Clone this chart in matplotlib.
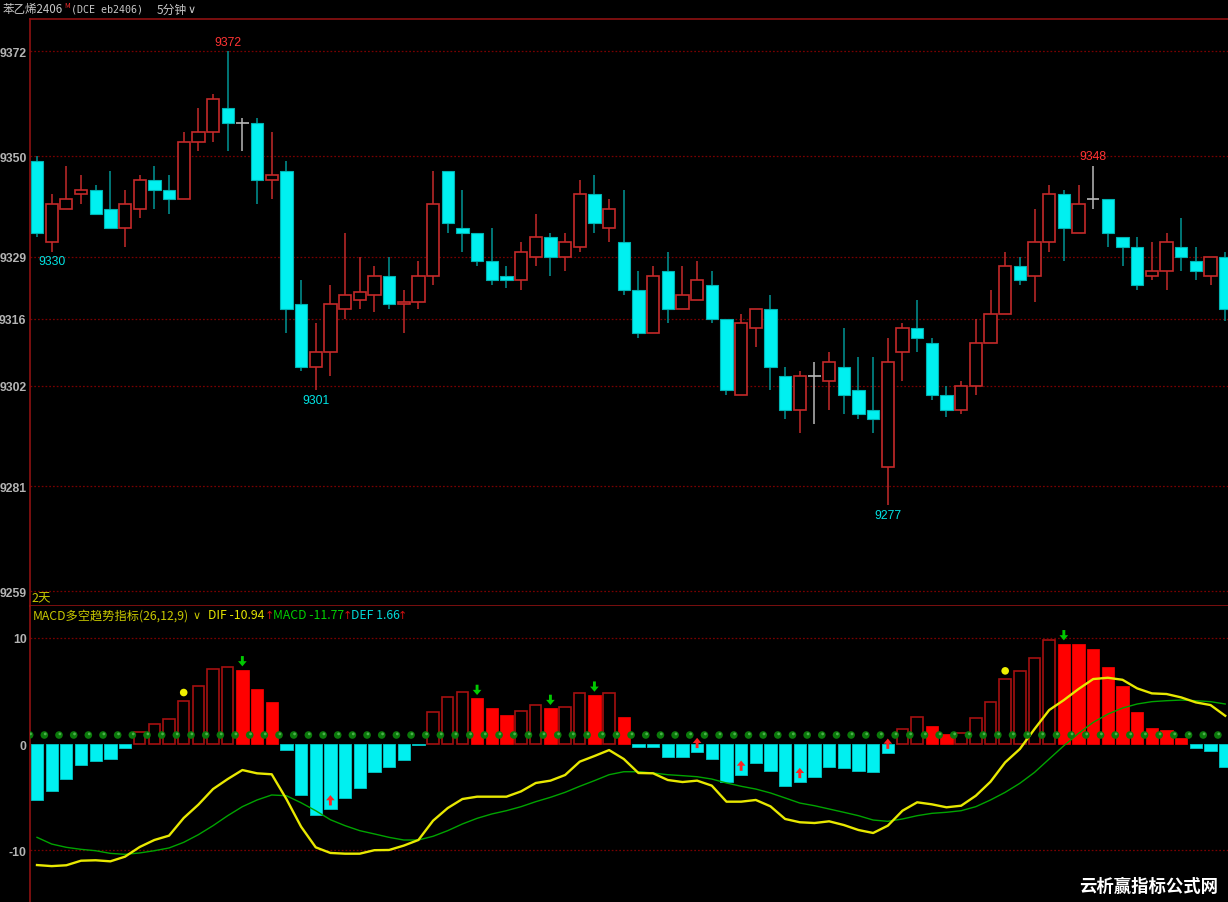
import matplotlib
matplotlib.use('Agg')
import matplotlib.pyplot as plt
import numpy as np
from matplotlib.path import Path

plt.rcParams['font.family'] = ['Noto Sans CJK SC', 'DejaVu Sans']

# ---------------- data ----------------
opens = [9349, 9332, 9339, 9342, 9343, 9339, 9335, 9339, 9345, 9343,
         9341, 9353, 9355, 9360, 9357, 9357, 9345, 9347, 9319, 9306,
         9309, 9318, 9320, 9321, 9325, 9319, 9319.5, 9325, 9347, 9335,
         9334, 9328, 9325, 9324, 9329, 9333, 9329, 9331, 9342, 9335,
         9332, 9322, 9313, 9326, 9318, 9320, 9323, 9316, 9300, 9314,
         9318, 9304, 9297, 9304, 9303, 9306, 9301, 9297, 9285, 9309,
         9314, 9311, 9300, 9297, 9302, 9311, 9317, 9327, 9325, 9332,
         9342, 9334, 9341, 9341, 9333, 9331, 9325, 9326, 9331, 9328,
         9325, 9329]
highs = [9350, 9342, 9348, 9346, 9344, 9347, 9343, 9346, 9348, 9346,
         9355, 9360, 9363, 9372, 9358, 9358, 9355, 9349, 9324, 9315,
         9323, 9334, 9329, 9327, 9329, 9322, 9328, 9347, 9347, 9343,
         9334, 9335, 9327, 9332, 9338, 9334, 9334, 9345, 9346, 9341,
         9343, 9326, 9327, 9330, 9327, 9328, 9326, 9316, 9317, 9318,
         9321, 9306, 9305, 9307, 9309, 9314, 9308, 9308, 9312, 9315,
         9320, 9312, 9302, 9303, 9316, 9322, 9330, 9329, 9339, 9344,
         9343, 9344, 9348, 9341, 9333, 9333, 9332, 9334, 9337, 9331,
         9329, 9330]
lows = [9333, 9330, 9339, 9340, 9338, 9335, 9331, 9337, 9339, 9338,
        9341, 9351, 9353, 9351, 9351, 9340, 9341, 9313, 9305, 9301,
        9304, 9316, 9318, 9317.5, 9318, 9313, 9318, 9323, 9334, 9330,
        9327, 9323, 9322.5, 9322, 9327, 9325, 9326, 9330, 9334, 9332,
        9321, 9312, 9313, 9315, 9318, 9320, 9315, 9300, 9300, 9310,
        9301, 9295, 9292, 9294, 9297, 9296, 9295, 9292, 9277, 9303,
        9309, 9299, 9295.4, 9296, 9300, 9311, 9317, 9323, 9319.5, 9330,
        9328, 9334, 9339, 9331, 9327, 9322, 9324, 9322, 9326, 9324,
        9323, 9315.5]
closes = [9334, 9340, 9341, 9343, 9338, 9335, 9340, 9345, 9343, 9341,
          9353, 9355, 9362, 9357, 9357, 9345, 9346, 9318, 9306, 9309,
          9319, 9321, 9321.5, 9325, 9319, 9319.5, 9325, 9340, 9336, 9334,
          9328, 9324, 9324, 9330, 9333, 9329, 9332, 9342, 9336, 9339,
          9322, 9313, 9325, 9318, 9321, 9324, 9316, 9301, 9315, 9318,
          9306, 9297, 9304, 9304, 9307, 9300, 9296, 9295, 9307, 9314,
          9312, 9300, 9297, 9302, 9311, 9317, 9327, 9324, 9332, 9342,
          9335, 9340, 9341, 9334, 9331, 9323, 9326, 9332, 9329, 9326,
          9329, 9318]

hist = [-5.27, -4.4, -3.3, -2.0, -1.57, -1.38, -0.38, 1.16, 1.91, 2.32,
        4.05, 5.43, 7.06, 7.22, 7.0, 5.15, 3.95, -0.57, -4.77, -6.65,
        -6.15, -5.08, -4.14, -2.64, -2.2, -1.5, -0.06, 2.98, 4.39, 4.86,
        4.30, 3.36, 2.73, 3.08, 3.64, 3.36, 3.48, 4.8, 4.61, 4.77,
        2.51, -0.25, -0.31, -1.19, -1.26, -0.75, -1.38, -3.58, -2.89, -1.82,
        -2.57, -3.95, -3.58, -3.08, -2.14, -2.23, -2.51, -2.61, -0.82, 1.41,
        2.51, 1.73, 0.91, 1.0, 2.42, 3.99, 6.09, 6.84, 8.07, 9.76,
        9.45, 9.39, 8.95, 7.3, 5.5, 2.98, 1.54, 1.29, 0.6, -0.38,
        -0.63, -2.2]
dif = [-11.4, -11.5, -11.42, -10.99, -10.95, -11.05, -10.61, -9.7, -9.04, -8.63,
       -6.97, -5.71, -4.24, -3.30, -2.45, -2.76, -2.85, -5.18, -7.78, -9.73,
       -10.26, -10.33, -10.33, -10.0, -9.98, -9.57, -9.04, -7.22, -6.03, -5.18,
       -4.96, -4.96, -4.96, -4.46, -3.67, -3.45, -2.92, -1.66, -1.13, -0.57,
       -1.41, -2.73, -2.76, -3.39, -3.58, -3.45, -3.92, -5.43, -5.43, -5.27,
       -5.87, -7.06, -7.37, -7.44, -7.28, -7.63, -8.1, -8.38, -7.69, -6.28,
       -5.49, -5.68, -5.96, -5.81, -4.87, -3.55, -1.73, -0.47, 1.41, 3.2,
       4.14, 5.18, 6.12, 6.24, 6.05, 5.24, 4.77, 4.71, 4.39, 3.92,
       3.67, 2.66]
dea = [-8.79, -9.42, -9.73, -9.92, -10.05, -10.3, -10.39, -10.26, -10.05, -9.79,
       -9.26, -8.54, -7.69, -6.75, -5.9, -5.27, -4.8, -4.87, -5.53, -6.28,
       -7.13, -7.69, -8.16, -8.47, -8.79, -9.04, -9.04, -8.69, -8.16, -7.53,
       -7.0, -6.59, -6.28, -5.9, -5.43, -5.02, -4.55, -3.98, -3.45, -2.89,
       -2.61, -2.61, -2.73, -2.89, -2.98, -3.08, -3.30, -3.67, -3.98, -4.24,
       -4.61, -5.08, -5.56, -5.81, -6.12, -6.43, -6.75, -7.16, -7.28, -7.06,
       -6.75, -6.53, -6.43, -6.28, -5.9, -5.27, -4.55, -3.7, -2.67, -1.41,
       -0.16, 1.0, 2.04, 2.82, 3.39, 3.77, 3.99, 4.08, 4.14, 4.08,
       3.99, 3.77]

price_ticks = [9372, 9350, 9329, 9316, 9302, 9281, 9259]
macd_ticks = [10, 0, -10]
macd_grid = [10, -10]
high_marks = [13, 72]
low_marks = [1, 19, 58]
sell_arrows = [14, 30, 35, 38, 70]
buy_arrows = [20, 45, 48, 52, 58]
yellow_dots = [10, 66]
dot_level = 0.85

# ---------------- style ----------------
BG = 'black'
AXRED = '#8e1212'
GRID = '#780000'
CANDLE_RED = '#c42a2a'
CYAN = '#00f0f0'
CYAN_WICK = '#009696'
DOJI = '#b8b8b8'
LABEL = '#b4b4b4'
NUMFONT = ['Liberation Sans', 'DejaVu Sans']

W, H = 1228, 903
fig = plt.figure(figsize=(W / 100, H / 100), dpi=100, facecolor=BG)


def fx(px):
    return px / W


def fy(py):
    return 1 - py / H


ax = fig.add_axes([fx(30), fy(607), fx(W - 30), (607 - 20) / H], facecolor=BG)
ax2 = fig.add_axes([fx(30), 0, fx(W - 30), (903 - 607) / H], facecolor=BG)

n = len(opens)
x = np.arange(n)
bw = 0.84

# ---- candles ----
for i in range(n):
    o, h, l, c = opens[i], highs[i], lows[i], closes[i]
    if c > o:
        ax.vlines(i, c, h, color=CANDLE_RED, lw=1.1, zorder=2)
        ax.vlines(i, l, o, color=CANDLE_RED, lw=1.1, zorder=2)
        ax.bar(i, c - o, bottom=o, width=bw, facecolor=BG, edgecolor=CANDLE_RED,
               linewidth=1.2, zorder=3)
    elif c < o:
        ax.vlines(i, l, h, color=CYAN_WICK, lw=1.1, zorder=2)
        ax.bar(i, o - c, bottom=c, width=bw, facecolor=CYAN, edgecolor='#00b4b4',
               linewidth=0.8, zorder=3)
    else:
        ax.vlines(i, l, h, color=DOJI, lw=1.1, zorder=2)
        ax.hlines(o, i - bw / 2, i + bw / 2, color=DOJI, lw=1.2, zorder=3)

ax.set_xlim(-0.477, 81.19)
ax.set_ylim(9255.9, 9378.7)
for t in price_ticks:
    ax.axhline(t, color=GRID, lw=0.9, ls=(0, (1.4, 1.6)), zorder=1)
ax.set_yticks(price_ticks)
ax.set_yticklabels([str(t) for t in price_ticks], color=LABEL, fontsize=8.8,
                   fontweight='bold', family=NUMFONT)
ax.tick_params(axis='y', length=0, pad=2.5)
ax.set_xticks([])

for i in high_marks:
    ax.annotate(f'{highs[i]:.0f}', xy=(i, highs[i]), xytext=(0, 2.5),
                textcoords='offset points', ha='center', va='bottom',
                color='#ff3434', fontsize=8.8, family=NUMFONT)
for i in low_marks:
    ax.annotate(f'{lows[i]:.0f}', xy=(i, lows[i]), xytext=(0, -2.5),
                textcoords='offset points', ha='center', va='top',
                color='#00e4e4', fontsize=8.8, family=NUMFONT)

ax.spines['right'].set_visible(False)
for s in ['left', 'top', 'bottom']:
    ax.spines[s].set_color(AXRED)
    ax.spines[s].set_linewidth(1.2)

# ---- MACD ----
for i in range(n):
    v = hist[i]
    if v < 0:
        ax2.bar(i, v, width=bw, facecolor=CYAN, edgecolor='#00c8c8', linewidth=0.6, zorder=2)
    else:
        prev = hist[i - 1] if i > 0 else 0
        if v > prev:
            ax2.bar(i, v, width=bw - 0.06, facecolor=BG, edgecolor='#a51010',
                    linewidth=1.2, zorder=2)
        else:
            ax2.bar(i, v, width=bw, facecolor='#ff0000', edgecolor='#ff0000',
                    linewidth=0.5, zorder=2)

for t in macd_grid:
    ax2.axhline(t, color=GRID, lw=0.9, ls=(0, (1.4, 1.6)), zorder=1)

ax2.plot(x, dea, color='#00a400', lw=1.0, zorder=4)
ax2.plot(x, dif, color='#e8e800', lw=1.7, zorder=5)

dx = np.arange(n) - 0.5
ax2.scatter(dx, [dot_level] * n, s=30, color='#0a7a0a', edgecolors='none', zorder=6)
ax2.scatter(dx + 0.06, [dot_level + 0.1] * n, s=4, color='#4cb04c', edgecolors='none', zorder=7)

down_path = Path([(-0.14, 0.5), (0.14, 0.5), (0.14, 0.0), (0.42, 0.0), (0.0, -0.5),
                  (-0.42, 0.0), (-0.14, 0.0), (-0.14, 0.5)],
                 [Path.MOVETO] + [Path.LINETO] * 6 + [Path.CLOSEPOLY])
up_path = Path([(-0.14, -0.5), (0.14, -0.5), (0.14, 0.0), (0.42, 0.0), (0.0, 0.5),
                (-0.42, 0.0), (-0.14, 0.0), (-0.14, -0.5)],
               [Path.MOVETO] + [Path.LINETO] * 6 + [Path.CLOSEPOLY])
ax2.scatter(sell_arrows, [hist[i] + 0.8 for i in sell_arrows], marker=down_path,
            s=55, color='#00c800', edgecolors='none', zorder=8)
ax2.scatter(buy_arrows, [hist[i] + 0.85 for i in buy_arrows], marker=up_path,
            s=55, color='#ff2020', edgecolors='none', zorder=8)
ax2.scatter(yellow_dots, [hist[i] + 0.8 for i in yellow_dots], s=30,
            color='#f0f000', edgecolors='none', zorder=8)

ax2.set_xlim(-0.477, 81.19)
ax2.set_ylim(-14.88, 13.0)
ax2.set_yticks(macd_ticks)
ax2.set_yticklabels([str(t) for t in macd_ticks], color=LABEL, fontsize=8.8,
                    fontweight='bold', family=NUMFONT)
ax2.tick_params(axis='y', length=0, pad=2.5)
ax2.set_xticks([])
for s in ['right', 'top', 'bottom']:
    ax2.spines[s].set_visible(False)
ax2.spines['left'].set_color(AXRED)
ax2.spines['left'].set_linewidth(1.2)

# ---- header texts ----
HDR = '#c8c8c8'
fig.text(fx(3), fy(10), '苯乙烯2406', color=HDR, fontsize=8.3, va='center', ha='left')
fig.text(fx(64), fy(6), 'M', color='#ff3030', fontsize=5, va='center', ha='left')
fig.text(fx(71), fy(10), '(DCE eb2406)', color=HDR, fontsize=7.2, va='center', ha='left',
         family=['DejaVu Sans Mono'])
fig.text(fx(157), fy(10), '5分钟', color=HDR, fontsize=8.5, va='center', ha='left')
fig.text(fx(188), fy(10), '∨', color=HDR, fontsize=8, va='center', ha='left',
         family=['DejaVu Sans'])

fig.text(fx(31), fy(599), '2天', color='#c8c800', fontsize=9, va='center', ha='left')

OLIVE = '#c8c800'
fig.text(fx(33), fy(616), 'MACD多空趋势指标(26,12,9)', color=OLIVE, fontsize=8.8,
         va='center', ha='left')
fig.text(fx(193), fy(616), '∨', color=OLIVE, fontsize=8, va='center', ha='left',
         family=['DejaVu Sans'])
fig.text(fx(208), fy(616), 'DIF -10.94', color='#e6e600', fontsize=8.8, va='center', ha='left')
fig.text(fx(265), fy(616), '↑', color='#d01010', fontsize=8, va='center', ha='left',
         family=['DejaVu Sans'])
fig.text(fx(273), fy(616), 'MACD -11.77', color='#00d000', fontsize=8.8, va='center', ha='left')
fig.text(fx(343), fy(616), '↑', color='#d01010', fontsize=8, va='center', ha='left',
         family=['DejaVu Sans'])
fig.text(fx(351), fy(616), 'DEF 1.66', color='#00d8d8', fontsize=8.8, va='center', ha='left')
fig.text(fx(398), fy(616), '↑', color='#d01010', fontsize=8, va='center', ha='left',
         family=['DejaVu Sans'])

fig.text(fx(1218), fy(887), '云析赢指标公式网', color='white', fontsize=12.5,
         fontweight='bold', va='center', ha='right')

fig.savefig('out.png', dpi=100, facecolor=BG)
